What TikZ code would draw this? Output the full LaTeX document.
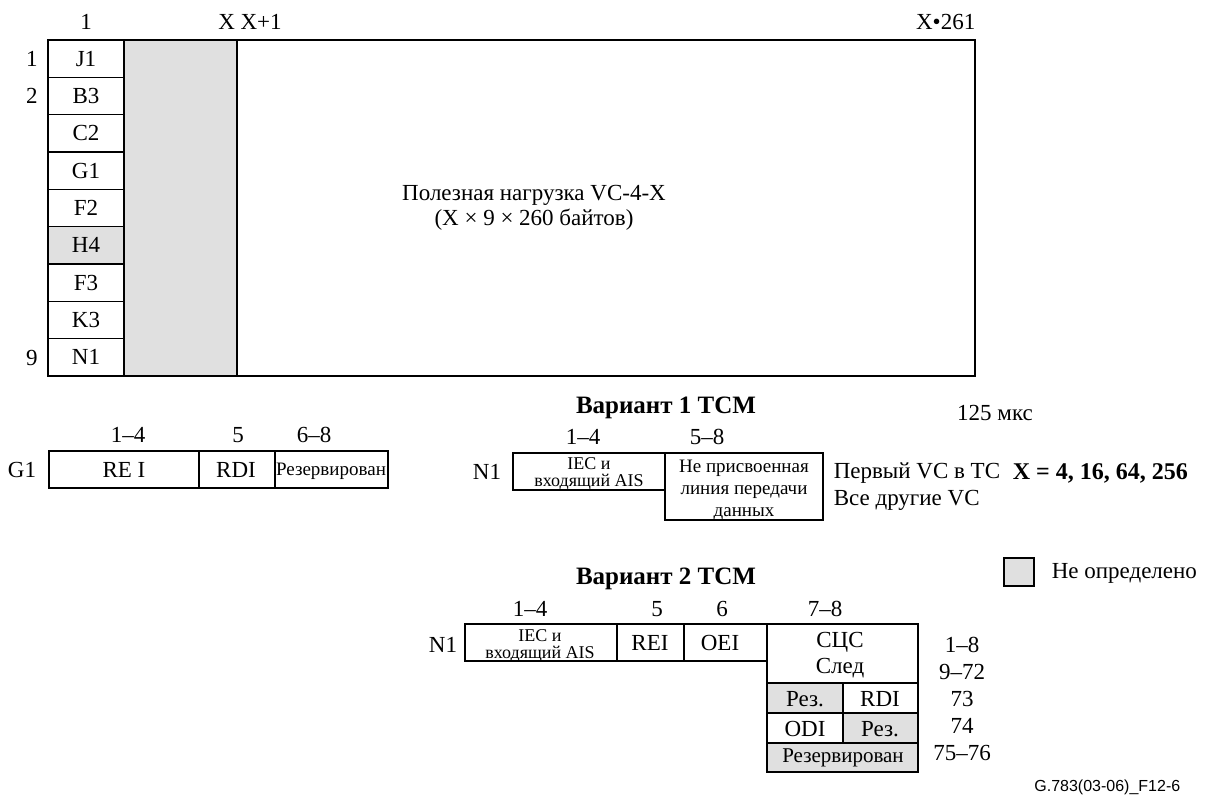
\documentclass[tikz,border=0pt]{standalone}
\usepackage{fontspec}
\setmainfont{Liberation Serif}
\newfontfamily\figfont{Liberation Sans}
\usepackage{tikz}
\usetikzlibrary{calc}
\definecolor{undefgray}{HTML}{E0E0E0}

\begin{document}
\begin{tikzpicture}[x=0.5pt, y=-0.5pt, line width=0.75pt,
	every node/.style={inner sep=0pt, font=\fontsize{11.5}{12.5}\selectfont},
	small/.style={font=\fontsize{9}{8.5}\selectfont, align=center},
	mid/.style={font=\fontsize{9.5}{11}\selectfont, align=center},
	title/.style={font=\fontsize{12.5}{14}\selectfont\bfseries},
	undef/.style={fill=undefgray}]
	\useasboundingbox (0,0) rectangle (1206,796);
	
	% VC-4-X frame
	\fill[undef] (124,40) rectangle (237,376);
	\fill[undef] (48,227) rectangle (124,264);
	\draw (48,40) rectangle (975,376);
	\draw (124,40) -- (124,376);
	\draw (237,40) -- (237,376);
	\foreach \i in {1,...,8}
		\draw (48,{40+\i*37.33}) -- (124,{40+\i*37.33});
	\foreach \lbl [count=\i] in {J1,B3,C2,G1,F2,H4,F3,K3,N1}
		\node (poh\i) at (86,{40+(\i-0.5)*37.33}) {\lbl};
	
	% column and row numbers
	\node (col1) at (86,22) {1};
	\node (colx) at (250,22) {X X+1};
	\node[anchor=east] (colend) at (976,22) {X•261};
	\node (row1) at (32,59) {1};
	\node (row2) at (32,96) {2};
	\node (row9) at (32,358) {9};
	
	\node[align=center] (payload) at (534,208) {Полезная нагрузка VC-4-X\\(X × 9 × 260 байтов)};
	
	% G1 byte
	\node (g1) at (22,470) {G1};
	\draw (49,451) rectangle (388,488);
	\draw (199,451) -- (199,488);
	\draw (275,451) -- (275,488);
	\node (g1a) at (128,435) {1–4};
	\node (g1b) at (238,435) {5};
	\node (g1c) at (314,435) {6–8};
	\node (rei) at (124,470) {RE I};
	\node (rdi) at (236,470) {RDI};
	\node[mid] (res) at (331,471) {Резервирован};
	
	% N1, variant 1
	\node[title] (opt1) at (666,408) {Вариант 1 TCM};
	\node (o1a) at (583,437) {1–4};
	\node (o1b) at (707,437) {5–8};
	\node (n1a) at (487,472) {N1};
	\draw (513,453) rectangle (665,490);
	\draw (665,453) rectangle (823,520);
	\node[small] (iec1) at (589,474) {IEC и\\входящий AIS};
	\node[mid] (udl) at (744,490) {Не присвоенная\\линия передачи\\данных};
	\node[anchor=west] (first) at (833,473) {Первый VC в TC};
	\node[anchor=west] (other) at (833,500) {Все другие VC};
	\node (time) at (995,413) {125 мкс};
	\node[anchor=west, title, font=\fontsize{12}{14}\selectfont\bfseries] (xval) at (1012,473) {X = 4, 16, 64, 256};
	
	% legend
	\draw[undef] (1004,558) rectangle (1034,586);
	\node[anchor=west] (leg) at (1051,573) {Не определено};
	
	% N1, variant 2
	\node[title] (opt2) at (666,579) {Вариант 2 TCM};
	\node (o2a) at (530,609) {1–4};
	\node (o2b) at (657,609) {5};
	\node (o2c) at (722,609) {6};
	\node (o2d) at (825,609) {7–8};
	\node (n1b) at (443,645) {N1};
	\fill[undef] (767,683) rectangle (843,713);
	\fill[undef] (843,713) rectangle (918,743);
	\fill[undef] (767,743) rectangle (918,772);
	\draw (465,624) rectangle (767,661);
	\draw (617,624) -- (617,661);
	\draw (684,624) -- (684,661);
	\draw (767,624) rectangle (918,772);
	\draw (767,683) -- (918,683);
	\draw (767,713) -- (918,713);
	\draw (767,743) -- (918,743);
	\draw (843,683) -- (843,743);
	\node[small] (iec2) at (540,646) {IEC и\\входящий AIS};
	\node (rei2) at (650,643) {REI};
	\node (oei) at (720,643) {OEI};
	\node (apid) at (840,642) {СЦС};
	\node (trace) at (840,668) {След};
	\node (res1) at (805,699) {Рез.};
	\node (rdi2) at (880,699) {RDI};
	\node (odi) at (805,729) {ODI};
	\node (res2) at (880,729) {Рез.};
	\node[font=\fontsize{10.5}{12}\selectfont] (res3) at (843,758) {Резервирован};
	\node (fr1) at (962,645) {1–8};
	\node (fr2) at (962,672) {9–72};
	\node (fr3) at (962,699) {73};
	\node (fr4) at (962,726) {74};
	\node (fr5) at (962,753) {75–76};
	
	\node[anchor=east, font=\figfont\fontsize{8}{9}\selectfont] (figno) at (1181,787) {G.783(03-06)\_F12-6};
\end{tikzpicture}
\end{document}
